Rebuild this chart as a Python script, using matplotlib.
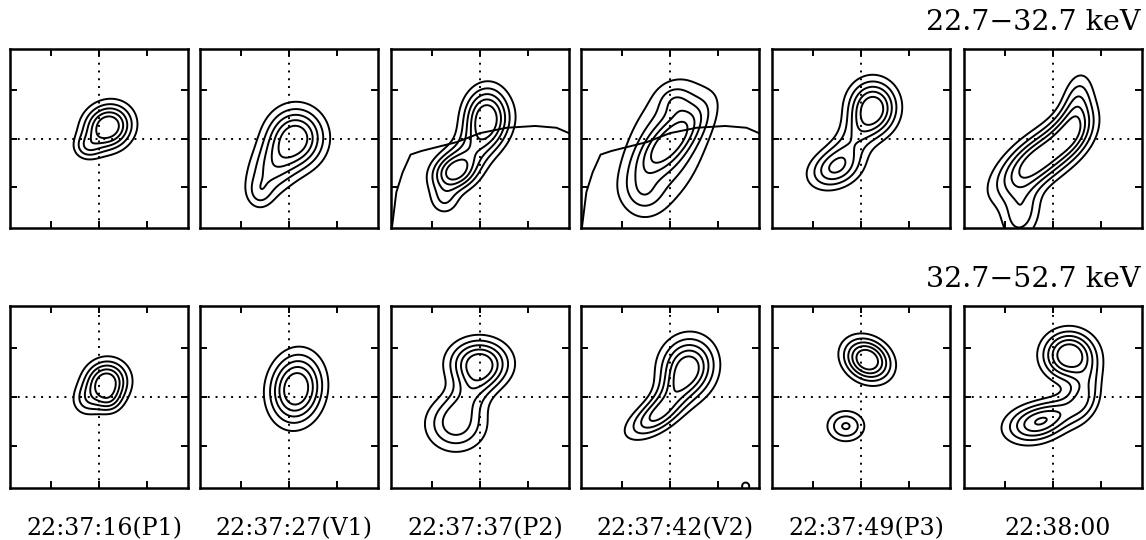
import numpy as np
import matplotlib.pyplot as plt

band_labels = ["22.7\u221232.7 keV", "32.7\u221252.7 keV"]
time_labels = ["22:37:16(P1)", "22:37:27(V1)", "22:37:37(P2)",
               "22:37:42(V2)", "22:37:49(P3)", "22:38:00"]
levels = [0.2, 0.35, 0.5, 0.65, 0.8]

# emission sources per panel: x0, y0, amp, sigma_major, sigma_minor, angle(deg)
lo_1 = [[0.10, 0.13, 1.0, 0.19, 0.17, 30], [-0.14, -0.10, 0.32, 0.11, 0.10, 0]]
lo_2 = [[0.08, 0.01, 1.0, 0.23, 0.22, 90], [-0.20, -0.35, 0.52, 0.25, 0.18, 60],
        [-0.33, -0.62, 0.25, 0.10, 0.12, 0]]
lo_3 = [[0.06, 0.27, 1.0, 0.22, 0.17, 80], [-0.29, -0.38, 0.85, 0.18, 0.14, 20],
        [-0.05, -0.10, 0.55, 0.32, 0.16, 45], [-0.40, -0.70, 0.35, 0.12, 0.12, 0]]
lo_4 = [[0.02, -0.02, 0.6, 0.36, 0.13, 45], [-0.05, -0.10, 0.6, 0.55, 0.30, 68],
        [0.06, 0.42, 0.25, 0.13, 0.12, 0], [-0.30, -0.62, 0.22, 0.14, 0.14, 0]]
lo_5 = [[0.13, 0.35, 1.0, 0.21, 0.19, 90], [-0.29, -0.34, 0.66, 0.22, 0.15, 20],
        [-0.08, 0.0, 0.40, 0.28, 0.14, 50]]
lo_6 = [[-0.17, -0.24, 1.0, 0.38, 0.17, 38], [0.28, 0.45, 0.40, 0.22, 0.12, 80],
        [0.22, 0.10, 0.50, 0.22, 0.15, 60], [-0.36, -0.85, 0.45, 0.22, 0.15, 75]]
hi_1 = [[0.08, 0.16, 1.0, 0.17, 0.16, 30], [-0.15, -0.05, 0.30, 0.12, 0.12, 0],
        [0.12, -0.05, 0.25, 0.10, 0.10, 0]]
hi_2 = [[0.08, 0.09, 1.0, 0.26, 0.20, 80]]
hi_3 = [[-0.01, 0.37, 1.0, 0.23, 0.18, 0], [-0.27, -0.30, 0.62, 0.24, 0.21, 0],
        [-0.10, 0.05, 0.35, 0.22, 0.14, 50]]
hi_4 = [[0.20, 0.33, 1.0, 0.23, 0.21, 70], [-0.18, -0.23, 0.60, 0.26, 0.12, 30],
        [0.0, 0.02, 0.40, 0.26, 0.12, 50], [0.85, -0.98, 0.32, 0.05, 0.05, 0]]
hi_5 = [[0.07, 0.41, 1.0, 0.19, 0.15, -30], [-0.17, -0.32, 0.52, 0.15, 0.12, 0]]
hi_6 = [[0.18, 0.46, 1.0, 0.20, 0.18, 0], [-0.22, -0.30, 0.58, 0.24, 0.15, 10],
        [0.36, 0.05, 0.40, 0.22, 0.12, 75], [0.05, -0.18, 0.40, 0.26, 0.12, 20]]

# solar limb seen in panels 3 and 4 of the low band
limb_x = [-0.99, -0.94, -0.87, -0.78, -0.66, -0.26, 0.0, 0.30, 0.62, 0.86, 1.0]
limb_y = [-1.0, -0.60, -0.38, -0.18, -0.14, -0.04, 0.06, 0.12, 0.14, 0.12, 0.06]

rows = [[lo_1, lo_2, lo_3, lo_4, lo_5, lo_6], [hi_1, hi_2, hi_3, hi_4, hi_5, hi_6]]
limb_panels = [(0, 2), (0, 3)]

W, H = 1146, 540
lefts = [10, 200, 391, 581, 772, 964]
tops = [49, 306]
heights = [179, 182]
pw = 178

g = np.linspace(-1, 1, 301)
X, Y = np.meshgrid(g, g)


def field(srcs):
    Z = np.zeros_like(X)
    for x0, y0, a, s1, s2, ang in srcs:
        t = np.deg2rad(ang)
        xr = (X - x0) * np.cos(t) + (Y - y0) * np.sin(t)
        yr = -(X - x0) * np.sin(t) + (Y - y0) * np.cos(t)
        Z += a * np.exp(-0.5 * (xr ** 2 / s1 ** 2 + yr ** 2 / s2 ** 2))
    return Z / Z.max()


fig = plt.figure(figsize=(W / 100, H / 100), dpi=100)

for r in range(2):
    for c in range(6):
        ax = fig.add_axes([lefts[c] / W, 1 - (tops[r] + heights[r]) / H,
                           pw / W, heights[r] / H])
        ax.contour(X, Y, field(rows[r][c]), levels=levels, colors='black',
                   linewidths=1.4)
        ax.axhline(0, color='black', lw=1.4, ls=(0, (1, 3)))
        ax.axvline(0, color='black', lw=1.4, ls=(0, (1, 3)))
        if (r, c) in limb_panels:
            ax.plot(limb_x, limb_y, color='black', lw=1.4)
        ax.set_xlim(-1, 1)
        ax.set_ylim(-1, 1)
        ax.set_xticks([-0.54, 0, 0.54])
        ax.set_yticks([-0.54, 0, 0.54])
        ax.tick_params(direction='in', length=5, width=1.4, top=True, right=True,
                       labelbottom=False, labelleft=False)
        for sp in ax.spines.values():
            sp.set_linewidth(1.8)
        if r == 1:
            fig.text((lefts[c] + pw / 2 + 5) / W, 1 - 535 / H, time_labels[c],
                     ha='center', va='baseline', fontsize=17, family='DejaVu Serif')

fig.text(1141 / W, 1 - 30 / H, band_labels[0], ha='right', va='baseline',
         fontsize=20.5, family='DejaVu Serif')
fig.text(1141 / W, 1 - 287 / H, band_labels[1], ha='right', va='baseline',
         fontsize=20.5, family='DejaVu Serif')

fig.savefig('out.png', dpi=100)
